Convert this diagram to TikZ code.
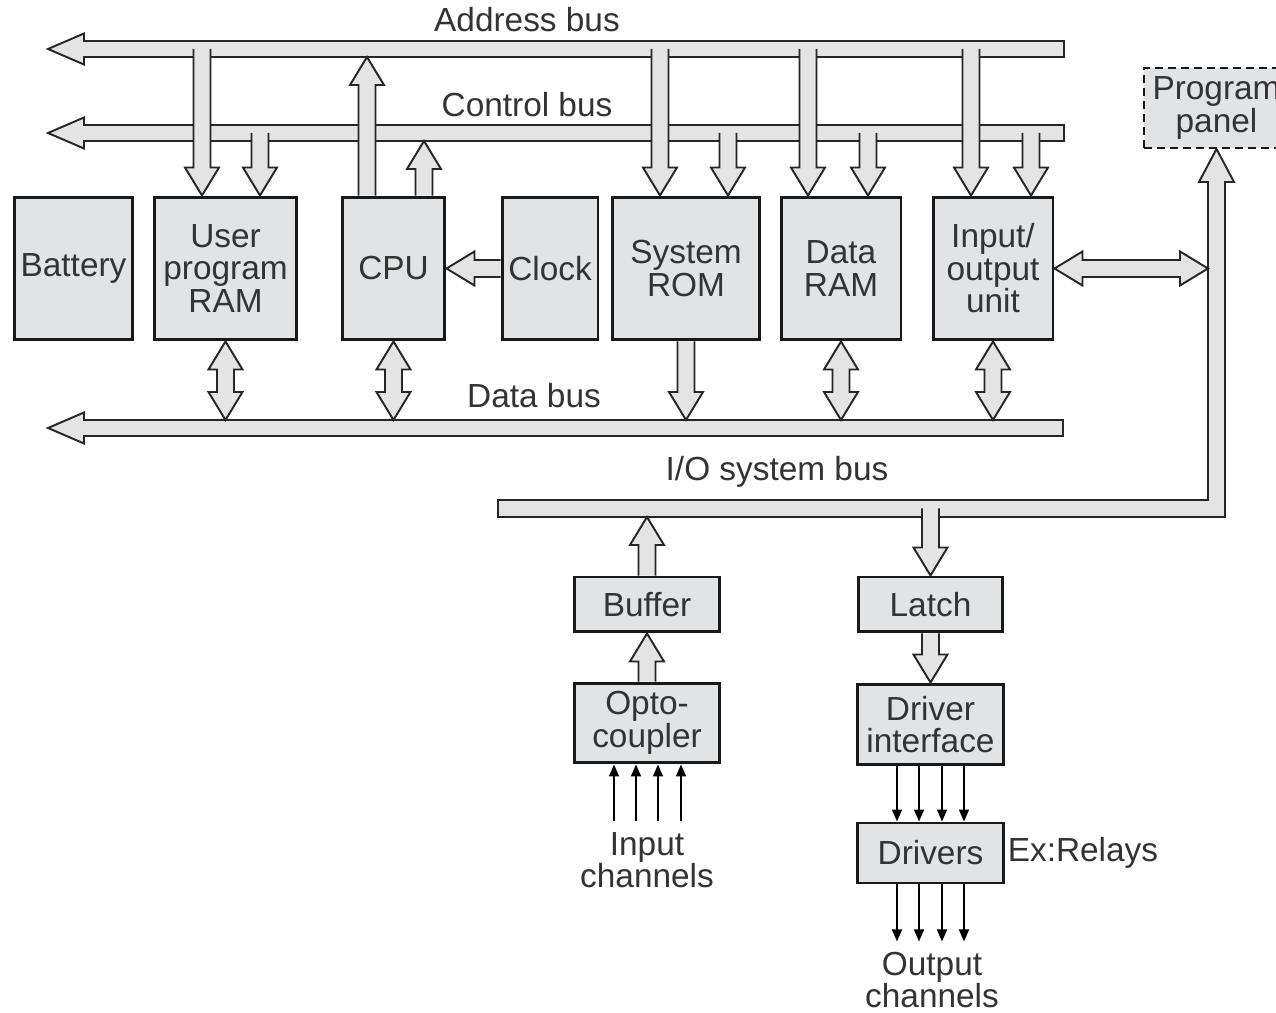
\documentclass[tikz,border=0pt]{standalone}
\usepackage{fontspec}
\setmainfont{Liberation Sans}
\usetikzlibrary{calc,arrows.meta}

\definecolor{boxgray}{HTML}{E1E3E5}
\definecolor{arrgray}{HTML}{E4E4E4}
\definecolor{inkgray}{HTML}{333333}

\pgfdeclarelayer{bg}
\pgfsetlayers{bg,main}

\tikzset{
  unit/.style={draw=black!90, line width=1.7pt, fill=boxgray, inner sep=0pt,
    align=center, text=inkgray, font=\fontsize{19pt}{18.5pt}\selectfont},
  fatbody/.style={draw=black!85, line width=1.1pt, fill=arrgray, line join=miter},
  wire/.style={line width=1pt, -{Triangle[length=0.24cm,width=0.2cm]}},
  lbl/.style={text=inkgray, font=\fontsize{19pt}{18.5pt}\selectfont, align=center, inner sep=0pt}
}

% hollow block arrows: shaft half width, head half width, head length, from, to
\newcommand{\fatarrow}[6][]{%
  \filldraw[fatbody] let \p1=(#5), \p2=(#6), \p3=($(\p2)!#4!(\p1)$) in
    ($(\p1)!#2!90:(\p2)$) -- ($(\p3)!#2!-90:(\p1)$) -- ($(\p3)!#3!-90:(\p1)$)
    -- (\p2) -- ($(\p3)!#3!90:(\p1)$) -- ($(\p3)!#2!90:(\p1)$)
    -- ($(\p1)!#2!-90:(\p2)$) #1;}
\newcommand{\twoway}[5]{%
  \filldraw[fatbody] let \p1=(#4), \p2=(#5), \p3=($(\p2)!#3!(\p1)$), \p4=($(\p1)!#3!(\p2)$) in
    (\p1) -- ($(\p4)!#2!90:(\p2)$) -- ($(\p4)!#1!90:(\p2)$) -- ($(\p3)!#1!-90:(\p1)$)
    -- ($(\p3)!#2!-90:(\p1)$) -- (\p2) -- ($(\p3)!#2!90:(\p1)$) -- ($(\p3)!#1!90:(\p1)$)
    -- ($(\p4)!#1!-90:(\p2)$) -- ($(\p4)!#2!-90:(\p2)$) -- cycle;}
\newcommand{\tap}[2]{\fatarrow{0.17cm}{0.34cm}{0.56cm}{#1}{#2}}
\newcommand{\duplex}[2]{\twoway{0.17cm}{0.34cm}{0.56cm}{#1}{#2}}
\newcommand{\bustrunk}[2]{\fatarrow[-- cycle]{0.16cm}{0.31cm}{0.72cm}{#1}{#2}}

\begin{document}
\begin{tikzpicture}[x=0.02cm, y=-0.02cm]
  \useasboundingbox (0,0) rectangle (1276,1013);
  \clip (0,0) rectangle (1276,1013);

  % bus ends and taps
  \coordinate (abusR) at (1064,49);
  \coordinate (abusL) at (48,49);
  \coordinate (cbusR) at (1064,133);
  \coordinate (cbusL) at (48,133);
  \coordinate (dbusR) at (1063,428);
  \coordinate (dbusL) at (48,428);
  \coordinate (dtop) at (0,420);
  \coordinate (vbus) at (1208,0);
  \coordinate (iobot) at (0,517);
  \coordinate (iomid) at (0,508.5);
  \coordinate (ta1) at (202,49);  \coordinate (tc1) at (260,133);
  \coordinate (ta2) at (660,49);  \coordinate (tc2) at (728,133);
  \coordinate (ta3) at (808,49);  \coordinate (tc3) at (868,133);
  \coordinate (ta4) at (971,49);  \coordinate (tc4) at (1031,133);
  \coordinate (ua) at (367,57);   \coordinate (uc) at (424,141);

  \node[lbl, anchor=base] (alab) at (527,32) {Address bus};
  \node[lbl, anchor=base] (clab) at (527,117) {Control bus};
  \node[lbl, anchor=base] (dlab) at (534,408) {Data bus};
  \node[lbl, anchor=base] (iolab) at (777,481) {I/O system bus};

  % processor row
  \node[unit, minimum width=2.38cm, minimum height=2.86cm] (battery) at (73.5,268.5) {Battery};
  \node[unit, minimum width=2.86cm, minimum height=2.86cm] (uram) at (225.5,268.5) {User\\program\\RAM};
  \node[unit, minimum width=2.06cm, minimum height=2.86cm] (cpu) at (393.5,268.5) {CPU};
  \node[unit, minimum width=1.92cm, minimum height=2.86cm] (clock) at (550,268.5) {Clock};
  \node[unit, minimum width=2.96cm, minimum height=2.86cm] (rom) at (686,268.5) {System\\ROM};
  \node[unit, minimum width=2.4cm, minimum height=2.86cm] (dram) at (841,268.5) {Data\\RAM};
  \node[unit, minimum width=2.4cm, minimum height=2.86cm] (iou) at (993,268.5) {Input/\\output\\unit};
  \node[unit, line width=1.1pt, dash pattern=on 0.16cm off 0.1cm,
    minimum width=2.9cm, minimum height=1.6cm] (panel) at (1216.5,108) {Program\\panel};

  % i/o side
  \node[unit, minimum width=2.92cm, minimum height=1.1cm] (buffer) at (647,604.5) {Buffer};
  \node[unit, minimum width=2.9cm, minimum height=1.1cm] (latch) at (930.5,604.5) {Latch};
  \node[unit, minimum width=2.92cm, minimum height=1.6cm] (opto) at (647,723) {Opto-\\coupler};
  \node[unit, minimum width=2.94cm, minimum height=1.62cm] (drvif) at (930.5,724.5) {Driver\\interface};
  \node[unit, minimum width=2.94cm, minimum height=1.2cm] (drivers) at (930.5,853) {Drivers};

  \node[lbl] (inlab) at (647,860) {Input\\channels};
  \node[lbl] (outlab) at (932,980) {Output\\channels};
  \node[lbl, anchor=west] (relay) at ([xshift=0.04cm]drivers.east) {Ex:Relays};

  \begin{pgfonlayer}{bg}
    \bustrunk{abusR}{abusL}
    \bustrunk{cbusR}{cbusL}
    \bustrunk{dbusR}{dbusL}
    \filldraw[fatbody] (498,500) -- (1208,500) -- (1208,182) -- (1199,182) -- (panel.south)
      -- (1234,182) -- (1225,182) -- (1225,517) -- (498,517) -- cycle;

    \foreach \t/\b in {ta1/uram, tc1/uram, ta2/rom, tc2/rom, ta3/dram, tc3/dram, ta4/iou, tc4/iou}
      \tap{\t}{\b.north -| \t};
    \tap{cpu.north -| ua}{ua}
    \tap{cpu.north -| uc}{uc}
    \tap{clock.west}{cpu.east}

    \foreach \b in {uram,cpu,dram,iou}
      \duplex{\b.south}{\b.south |- dtop};
    \tap{rom.south}{rom.south |- dtop}
    \duplex{iou.east}{iou.east -| vbus}

    \tap{buffer.north}{buffer.north |- iobot}
    \tap{latch.north |- iomid}{latch.north}
    \tap{opto.north}{buffer.south}
    \tap{latch.south}{drvif.north}
  \end{pgfonlayer}

  \foreach \dx in {-0.66,-0.22,0.22,0.68}
    \draw[wire] ([xshift=\dx cm, yshift=-1.14cm]opto.south) -- ([xshift=\dx cm]opto.south);
  \foreach \dx in {-0.67,-0.23,0.23,0.67} {
    \draw[wire] ([xshift=\dx cm]drvif.south) -- ([xshift=\dx cm]drivers.north);
    \draw[wire] ([xshift=\dx cm]drivers.south) -- ([xshift=\dx cm, yshift=-1.14cm]drivers.south);
  }
\end{tikzpicture}
\end{document}
